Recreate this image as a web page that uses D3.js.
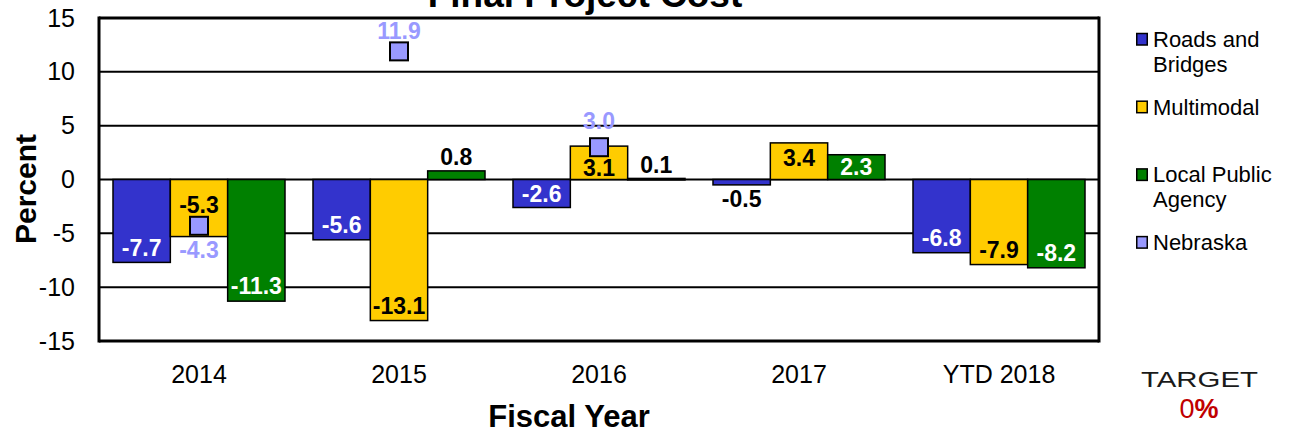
<!DOCTYPE html>
<html>
<head>
<meta charset="utf-8">
<script src="https://cdn.jsdelivr.net/npm/d3@7"></script>
<style>
  body { margin: 0; background: #fff; }
  svg text { font-family: "Liberation Sans", Arial, sans-serif; }
</style>
</head>
<body>
<div id="container"></div>
<script>
/* DATA */
const years = ["2014", "2015", "2016", "2017", "YTD 2018"]
const seriesNames = ["Roads and Bridges", "Multimodal", "Local Public Agency"]
const roadsBridges = [-7.7, -5.6, -2.6, -0.5, -6.8]
const multimodal = [-5.3, -13.1, 3.1, 3.4, -7.9]
const localPublic = [-11.3, 0.8, 0.1, 2.3, -8.2]
const nebraska = [-4.3, 11.9, 3.0, null, null]
const yTicks = [-15, -10, -5, 0, 5, 10, 15]
const legendNames = [["Roads and", "Bridges"], ["Multimodal"], ["Local Public", "Agency"], ["Nebraska"]]

/* CONSTANTS */
const width = 1289, height = 430
const margin = {top: 18, bottom: 89, left: 99, right: 190}
const colors = ["#3333CC", "#FFCC00", "#008000"]
const labelColors = ["#fff", "#000", "#fff"]
const nebColor = "#9999FF"
const fontMain = "Liberation Sans, Arial, sans-serif"

const svg = d3.select("#container").append("svg")
  .attr("width", width).attr("height", height)

/* SCALES */
const xScale = d3.scaleBand()
  .domain(years)
  .range([margin.left, width - margin.right])
  .paddingInner(0).paddingOuter(0)

const yScale = d3.scaleLinear()
  .domain([-15, 15])
  .range([height - margin.bottom, margin.top])

/* GRID */
svg.append("g").selectAll("line")
  .data(yTicks)
  .join("line")
  .attr("x1", margin.left).attr("x2", width - margin.right)
  .attr("y1", d => yScale(d)).attr("y2", d => yScale(d))
  .attr("stroke", "#000")
  .attr("stroke-width", d => (d === 15 || d === -15) ? 3 : 2)

// frame sides
svg.append("g").selectAll("line")
  .data([margin.left, width - margin.right])
  .join("line")
  .attr("x1", d => d).attr("x2", d => d)
  .attr("y1", yScale(15) - 1.5).attr("y2", yScale(-15) + 1.5)
  .attr("stroke", "#000").attr("stroke-width", 3)

/* Y AXIS */
const yAxis = d3.axisLeft(yScale).tickValues(yTicks).tickFormat(d => d).tickSize(0).tickPadding(24)
const gy = svg.append("g")
  .attr("transform", `translate(${margin.left}, 0)`)
  .call(yAxis)
gy.select(".domain").remove()
gy.selectAll("text").attr("font-size", 25).attr("fill", "#000")
  .attr("font-family", fontMain)

/* X AXIS */
const xAxis = d3.axisBottom(xScale).tickSize(0).tickPadding(24)
const gx = svg.append("g")
  .attr("transform", `translate(0, ${yScale(-15)})`)
  .call(xAxis)
gx.select(".domain").remove()
gx.selectAll("text").attr("font-size", 25).attr("fill", "#000")
  .attr("font-family", fontMain)

/* BARS */
const seriesValues = [roadsBridges, multimodal, localPublic]
const bars = []
seriesValues.forEach((vals, s) => {
  vals.forEach((v, i) => bars.push({s, i, year: years[i], v}))
})

const sw = xScale.bandwidth() * 0.86 / 3
const barX = d => xScale(d.year) + xScale.bandwidth() * 0.07 + d.s * sw

svg.append("g").selectAll("rect")
  .data(bars)
  .join("rect")
  .attr("x", barX)
  .attr("width", sw)
  .attr("y", d => Math.min(yScale(d.v), yScale(0)))
  .attr("height", d => Math.max(Math.abs(yScale(d.v) - yScale(0)), 1.5))
  .attr("fill", d => colors[d.s])
  .attr("stroke", "#000")
  .attr("stroke-width", 1.5)

/* BAR LABELS */
function labelY(d) {
  const end = yScale(d.v), zero = yScale(0)
  const neb = nebraska[d.i]
  const inside = neb !== null && d.s === 1 &&
    Math.abs(neb) <= Math.abs(d.v) && Math.sign(neb) === Math.sign(d.v)
  if (inside) {
    // sit beside the Nebraska marker, toward the zero line
    return yScale(neb) + (d.v > 0 ? 21 : -21)
  }
  if (Math.abs(d.v) < 1) return d.v > 0 ? end - 14 : end + 14
  const h = Math.abs(end - zero)
  const off = Math.min(15, h / 2)
  return d.v > 0 ? end + off : end - off
}
function labelFill(d) {
  return Math.abs(d.v) < 1 ? "#000" : labelColors[d.s]
}

svg.append("g").selectAll("text")
  .data(bars)
  .join("text")
  .attr("x", d => barX(d) + sw / 2)
  .attr("y", labelY)
  .attr("dy", "0.36em")
  .attr("text-anchor", "middle")
  .attr("font-size", 23)
  .attr("font-weight", "bold")
  .attr("fill", labelFill)
  .text(d => d.v.toFixed(1))

/* NEBRASKA MARKERS */
const nebData = nebraska.map((v, i) => ({v, year: years[i]})).filter(d => d.v !== null)
const mk = 18
svg.append("g").selectAll("rect")
  .data(nebData)
  .join("rect")
  .attr("x", d => xScale(d.year) + xScale.bandwidth() / 2 - mk / 2)
  .attr("y", d => yScale(d.v) - mk / 2)
  .attr("width", mk).attr("height", mk)
  .attr("fill", nebColor)
  .attr("stroke", "#000").attr("stroke-width", 2)

svg.append("g").selectAll("text")
  .data(nebData)
  .join("text")
  .attr("x", d => xScale(d.year) + xScale.bandwidth() / 2)
  .attr("y", d => d.v > 0 ? Math.max(yScale(d.v) - 26, yScale(15) + 13) : yScale(d.v) + 24)
  .attr("dy", "0.36em")
  .attr("text-anchor", "middle")
  .attr("font-size", 23)
  .attr("font-weight", "bold")
  .attr("fill", nebColor)
  .text(d => d.v.toFixed(1))

/* TITLES */
svg.append("text")
  .attr("x", 585).attr("y", 7)
  .attr("text-anchor", "middle")
  .attr("font-size", 37).attr("font-weight", "bold")
  .text("Final Project Cost")

svg.append("text")
  .attr("transform", "translate(36, 189) rotate(-90)")
  .attr("text-anchor", "middle")
  .attr("font-size", 30).attr("font-weight", "bold")
  .text("Percent")

svg.append("text")
  .attr("x", 569).attr("y", 427)
  .attr("text-anchor", "middle")
  .attr("font-size", 31).attr("font-weight", "bold")
  .text("Fiscal Year")

/* LEGEND */
const legendColors = [colors[0], colors[1], colors[2], nebColor]
const lg = svg.append("g").selectAll("g")
  .data(legendNames)
  .join("g")
  .attr("transform", (d, i) => `translate(1136, ${47 + i * 67.7})`)
lg.append("rect")
  .attr("x", 0.75).attr("y", -13.5).attr("width", 10.5).attr("height", 11.5)
  .attr("fill", (d, i) => legendColors[i]).attr("stroke", "#000").attr("stroke-width", 1.5)
lg.append("text")
  .attr("font-size", 22)
  .attr("font-family", fontMain)
  .selectAll("tspan")
  .data(d => d)
  .join("tspan")
  .attr("x", 17)
  .attr("y", (d, i) => i * 25)
  .text(d => d)

/* TARGET */
svg.append("text")
  .attr("x", 1141).attr("y", 387)
  .attr("font-family", "DejaVu Sans, sans-serif")
  .attr("font-size", 22)
  .attr("textLength", 117).attr("lengthAdjust", "spacingAndGlyphs")
  .attr("fill", "#1a1a1a")
  .text("TARGET")
const tg = svg.append("text")
  .attr("x", 1199).attr("y", 418)
  .attr("text-anchor", "middle")
  .attr("font-family", "DejaVu Sans, sans-serif")
  .attr("font-size", 27)
  .attr("fill", "#C00000")
tg.append("tspan").text("0")
tg.append("tspan").attr("font-weight", "bold").text("%")
</script>
</body>
</html>
